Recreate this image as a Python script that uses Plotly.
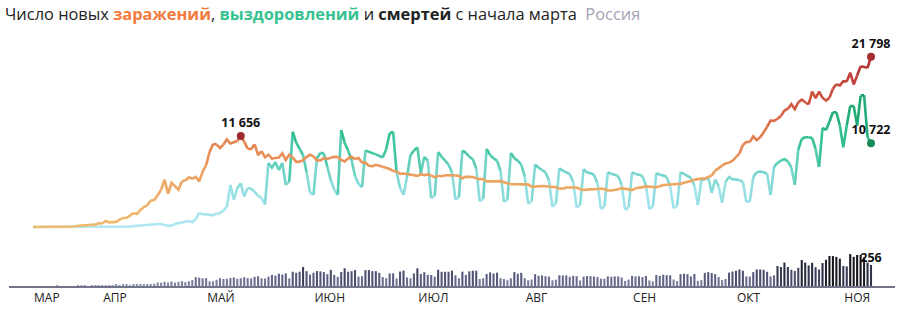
import plotly.graph_objects as go
import pandas as pd
import numpy as np

# ---------------- data (Mar 12 .. Nov 9, 2020) ----------------
dates = pd.date_range("2020-03-12", "2020-11-09", freq="D")

cases_mar = [6, 11, 14, 4, 30, 21, 33, 52, 54, 53, 61, 71, 57, 163, 182, 196, 228, 270, 302, 501]
cases_apr = [440, 771, 601, 582, 658, 954, 1154, 1175, 1459, 1786, 1667, 2186, 2558, 2774, 3388, 3448, 4070,
             4785, 6060, 4268, 5642, 5236, 4774, 5849, 5966, 6361, 6198, 6411, 5841, 7099]
cases_may = [7933, 9623, 10633, 10581, 10102, 10559, 11231, 10699, 10817, 11012, 11656, 10899, 10028, 9974,
             10598, 9200, 9709, 8926, 9263, 8764, 8849, 8894, 9434, 8599, 9268, 8915, 8338, 8371, 8572, 8952, 9268]
cases_jun = [9035, 8536, 8536, 8831, 8726, 8855, 8984, 8985, 8595, 8404, 8779, 8987, 8706, 8835, 8246, 8248,
             7843, 7790, 7972, 7889, 7728, 7600, 7425, 7176, 7113, 6800, 6852, 6791, 6719, 6693]
cases_jul = [6556, 6760, 6632, 6736, 6611, 6368, 6562, 6509, 6635, 6632, 6615, 6611, 6537, 6248, 6422, 6428,
             6406, 6234, 6109, 6139, 5842, 5862, 5811, 5848, 5871, 5765, 5635, 5475, 5509, 5482, 5462]
cases_aug = [5427, 5462, 5159, 5204, 5267, 5241, 5212, 5189, 5118, 5102, 4945, 4892, 5057, 5061, 5065, 5061,
             4839, 4748, 4790, 4767, 4838, 4870, 4921, 4852, 4696, 4676, 4711, 4829, 4980, 4897, 4729]
cases_sep = [4729, 4952, 4995, 5110, 5205, 5195, 5185, 5099, 5218, 5363, 5406, 5449, 5488, 5509, 5529, 5670,
             5762, 5905, 6065, 6148, 6196, 6215, 6431, 6595, 7212, 7523, 7867, 8135, 8232, 8481]
cases_oct = [8945, 9412, 10499, 10888, 10888, 11615, 11115, 11493, 12126, 12846, 13634, 13592, 13868, 14231,
             14926, 15150, 15722, 15099, 15982, 16319, 15971, 15700, 17340, 16521, 17347, 16550, 16202, 16541,
             17717, 18283, 18140]
cases_nov = [18665, 18648, 19768, 18257, 19404, 20582, 20498, 20396, 21798]

rec_mar = [0, 0, 1, 0, 2, 0, 3, 0, 5, 1, 4, 0, 9, 0, 16, 0, 0, 24, 0, 20]
rec_apr = [21, 2, 20, 60, 45, 61, 94, 50, 58, 108, 120, 169, 224, 256, 265, 333, 390, 380, 250, 150,
           160, 400, 480, 520, 640, 760, 600, 1000, 1800, 1600]
rec_may = [1650, 1550, 1500, 1700, 1790, 2100, 2600, 5400, 3500, 5000, 5600, 3900, 5000, 4900, 4500, 4000,
           3700, 2900, 8200, 7600, 8300, 7300, 8200, 5400, 5800, 12200, 10800, 10000, 9200, 7000, 4400]
rec_jun = [4100, 8800, 9500, 9400, 7700, 6000, 4800, 4100, 12400, 10800, 9800, 8600, 6500, 5500, 5100, 9800,
           9600, 9500, 9300, 9100, 8900, 10000, 12000, 12200, 7000, 5000, 4100, 6400, 9200, 9800]
rec_jul = [10200, 6900, 9000, 8500, 3700, 4000, 9600, 9000, 8500, 8000, 7000, 3500, 3800, 9800, 9500, 9000,
           8700, 7500, 3300, 3600, 10000, 9200, 8800, 8500, 7200, 3200, 3500, 9500, 8800, 8500, 8000]
rec_aug = [6500, 3000, 3300, 8000, 7600, 7300, 7000, 6000, 2600, 3000, 7500, 7200, 7000, 6800, 5800, 2500,
           2800, 7400, 7000, 6900, 6700, 5600, 2300, 2600, 7000, 6800, 6700, 6500, 5400, 2200, 2500]
rec_sep = [7000, 6800, 6700, 6500, 5300, 2300, 2600, 6900, 6700, 6600, 6400, 5200, 2400, 2700, 7000, 6800,
           6600, 6300, 5300, 2800, 6000, 6100, 6300, 4400, 6100, 5200, 3100, 5800, 6400, 6100]
rec_oct = [6100, 6000, 5800, 3200, 3300, 6400, 7000, 7100, 7000, 6800, 4100, 7700, 8200, 8500, 8700, 8400,
           7600, 5400, 9900, 11300, 11500, 11500, 11400, 10000, 7700, 12700, 12400, 13500, 14700, 14700, 13000]
rec_nov = [10200, 13000, 15500, 15500, 13000, 16800, 16900, 11500, 10722]

death_mar = [0, 0, 0, 0, 0, 0, 0, 1, 0, 0, 0, 0, 0, 1, 1, 1, 0, 2, 1, 2]
death_apr = [9, 2, 6, 4, 13, 2, 13, 13, 12, 18, 13, 18, 24, 24, 21, 28, 43, 41, 51, 42, 57, 42, 50, 60, 47,
             58, 72, 108, 101, 94]
death_may = [96, 57, 58, 76, 95, 86, 88, 98, 104, 88, 94, 107, 96, 93, 113, 119, 94, 91, 115, 135, 127, 150,
             139, 153, 92, 174, 161, 174, 232, 181, 138]
death_jun = [162, 182, 178, 169, 144, 197, 134, 112, 171, 216, 174, 181, 194, 113, 119, 193, 194, 182, 181,
             161, 109, 95, 153, 154, 92, 176, 188, 104, 93, 154]
death_jul = [216, 147, 168, 135, 134, 114, 198, 173, 174, 174, 188, 130, 95, 175, 135, 179, 186, 186, 85, 95,
             147, 165, 152, 163, 95, 85, 70, 94, 169, 150, 161]
death_aug = [95, 70, 78, 144, 125, 129, 119, 114, 70, 77, 130, 129, 129, 113, 124, 119, 68, 114, 122, 121,
             116, 109, 89, 88, 117, 113, 117, 117, 103, 62, 78]
death_sep = [123, 117, 119, 110, 122, 68, 56, 134, 124, 138, 132, 130, 79, 60, 145, 150, 144, 117, 146, 62,
             72, 160, 169, 158, 145, 108, 72, 85, 163, 176]
death_oct = [186, 201, 186, 117, 115, 169, 202, 201, 197, 174, 117, 130, 244, 232, 286, 232, 198, 184, 222,
             317, 286, 251, 283, 229, 201, 280, 320, 366, 365, 355, 334]
death_nov = [245, 239, 389, 356, 378, 378, 349, 286, 256]

cases = cases_mar + cases_apr + cases_may + cases_jun + cases_jul + cases_aug + cases_sep + cases_oct + cases_nov
recovered = rec_mar + rec_apr + rec_may + rec_jun + rec_jul + rec_aug + rec_sep + rec_oct + rec_nov
deaths = death_mar + death_apr + death_may + death_jun + death_jul + death_aug + death_sep + death_oct + death_nov
assert len(cases) == len(dates) == len(recovered) == len(deaths), (len(cases), len(recovered), len(deaths), len(dates))

month_ticks = ["2020-03-12", "2020-04-01", "2020-05-01", "2020-06-01", "2020-07-01",
               "2020-08-01", "2020-09-01", "2020-10-01", "2020-11-01"]
month_labels = ["МАР", "АПР", "МАЙ", "ИЮН", "ИЮЛ", "АВГ", "СЕН", "ОКТ", "НОЯ"]

# ---------------- styling ----------------
case_stops = [(0, "#efbb6c"), (6000, "#eca562"), (9000, "#e89058"), (11500, "#e27f50"),
              (15000, "#d65e42"), (19000, "#c0423a"), (22000, "#a83030")]
rec_stops = [(0, "#b0e7f2"), (4000, "#a0e2ea"), (7000, "#72d4c8"), (9500, "#42c7a2"),
             (12000, "#2dbd8c"), (17000, "#17995f")]
death_stops = [(0, "#9497b0"), (150, "#5c5f84"), (250, "#34364f"), (380, "#121216")]


def hex2rgb(h):
    h = h.lstrip("#")
    return np.array([int(h[i:i + 2], 16) for i in (0, 2, 4)], dtype=float)


def interp_color(v, stops):
    vals = [s[0] for s in stops]
    cols = [hex2rgb(s[1]) for s in stops]
    if v <= vals[0]:
        c = cols[0]
    elif v >= vals[-1]:
        c = cols[-1]
    else:
        for k in range(len(vals) - 1):
            if vals[k] <= v <= vals[k + 1]:
                t = (v - vals[k]) / (vals[k + 1] - vals[k])
                c = cols[k] * (1 - t) + cols[k + 1] * t
                break
    return "rgb(%d,%d,%d)" % tuple(int(round(x)) for x in c)


def gradient_traces(xs, ys, stops, nbins=40, width=2.6):
    vmin, vmax = stops[0][0], stops[-1][0]
    seg_bins = []
    for i in range(len(ys) - 1):
        v = (ys[i] + ys[i + 1]) / 2.0
        b = int(np.clip((v - vmin) / (vmax - vmin) * nbins, 0, nbins - 1))
        seg_bins.append(b)
    groups = {}
    i = 0
    n = len(seg_bins)
    while i < n:
        j = i
        while j + 1 < n and seg_bins[j + 1] == seg_bins[i]:
            j += 1
        gx, gy = groups.setdefault(seg_bins[i], ([], []))
        gx.extend(list(xs[i:j + 2]) + [None])
        gy.extend(list(ys[i:j + 2]) + [None])
        i = j + 1
    traces = []
    for b, (gx, gy) in sorted(groups.items()):
        col = interp_color(vmin + (b + 0.5) / nbins * (vmax - vmin), stops)
        traces.append(go.Scatter(x=gx, y=gy, mode="lines", line=dict(color=col, width=width),
                                 hoverinfo="skip", showlegend=False, connectgaps=False))
    return traces


x = [d.strftime("%Y-%m-%d") for d in dates]

fig = go.Figure()

# deaths bars
fig.add_trace(go.Bar(x=x, y=deaths, yaxis="y2",
                     marker=dict(color=[interp_color(v, death_stops) for v in deaths], line=dict(width=0)),
                     showlegend=False, hoverinfo="x+y"))

# recoveries and infections lines with value gradient
for tr in gradient_traces(x, recovered, rec_stops):
    fig.add_trace(tr)
for tr in gradient_traces(x, cases, case_stops):
    fig.add_trace(tr)

label_font = dict(family="Open Sans", size=12.5, color="#111")

# highlight points
peak_i = int(np.argmax(cases[:120]))
fig.add_trace(go.Scatter(x=[x[peak_i]], y=[cases[peak_i]], mode="markers+text",
                         marker=dict(color="#9e2a30", size=8),
                         text=["<b>11 656</b>"], textposition="top center", textfont=label_font,
                         cliponaxis=False, showlegend=False))
fig.add_trace(go.Scatter(x=[x[-1]], y=[cases[-1]], mode="markers+text",
                         marker=dict(color="#a52e30", size=8),
                         text=["<b>21 798</b>"], textposition="top center", textfont=label_font,
                         cliponaxis=False, showlegend=False))
fig.add_trace(go.Scatter(x=[x[-1]], y=[recovered[-1]], mode="markers+text",
                         marker=dict(color="#178a57", size=8),
                         text=["<b>10 722</b>"], textposition="top center", textfont=label_font,
                         cliponaxis=False, showlegend=False))
fig.add_trace(go.Scatter(x=[x[-1]], y=[deaths[-1]], yaxis="y2", mode="text",
                         text=["<b>256</b>"], textposition="top center", textfont=label_font,
                         cliponaxis=False, showlegend=False))

title_html = ("Число новых <span style='color:#f27a3c'><b>заражений</b></span>, "
              "<span style='color:#36c290'><b>выздоровлений</b></span> и "
              "<b>смертей</b> с начала марта  <span style='color:#a3a3b3'>Россия</span>")

H = 310.0
fig.update_layout(
    width=903, height=310,
    margin=dict(l=9, r=8, t=0, b=0),
    paper_bgcolor="white", plot_bgcolor="white",
    bargap=0.4,
    title=dict(text=title_html, x=5 / 903, xanchor="left", y=1 - 14 / H, yanchor="middle",
               font=dict(family="Open Sans", size=16.4, color="#222")),
    xaxis=dict(type="date", range=["2020-03-05 01:40", "2020-11-15 22:20"],
               anchor="y2", showgrid=False, zeroline=False,
               showline=True, linecolor="#72748a", linewidth=2,
               tickmode="array", tickvals=month_ticks, ticktext=month_labels,
               ticks="", ticklabelposition="outside right",
               tickfont=dict(family="Open Sans", size=12, color="#222")),
    yaxis=dict(domain=[(H - 232) / H, (H - 35) / H], range=[-640, 24593],
               visible=False, showgrid=False, zeroline=False),
    yaxis2=dict(domain=[(H - 286) / H, (H - 240) / H], range=[0, 561],
                visible=False, showgrid=False, zeroline=False),
    showlegend=False,
)

fig.write_html("out.html")
